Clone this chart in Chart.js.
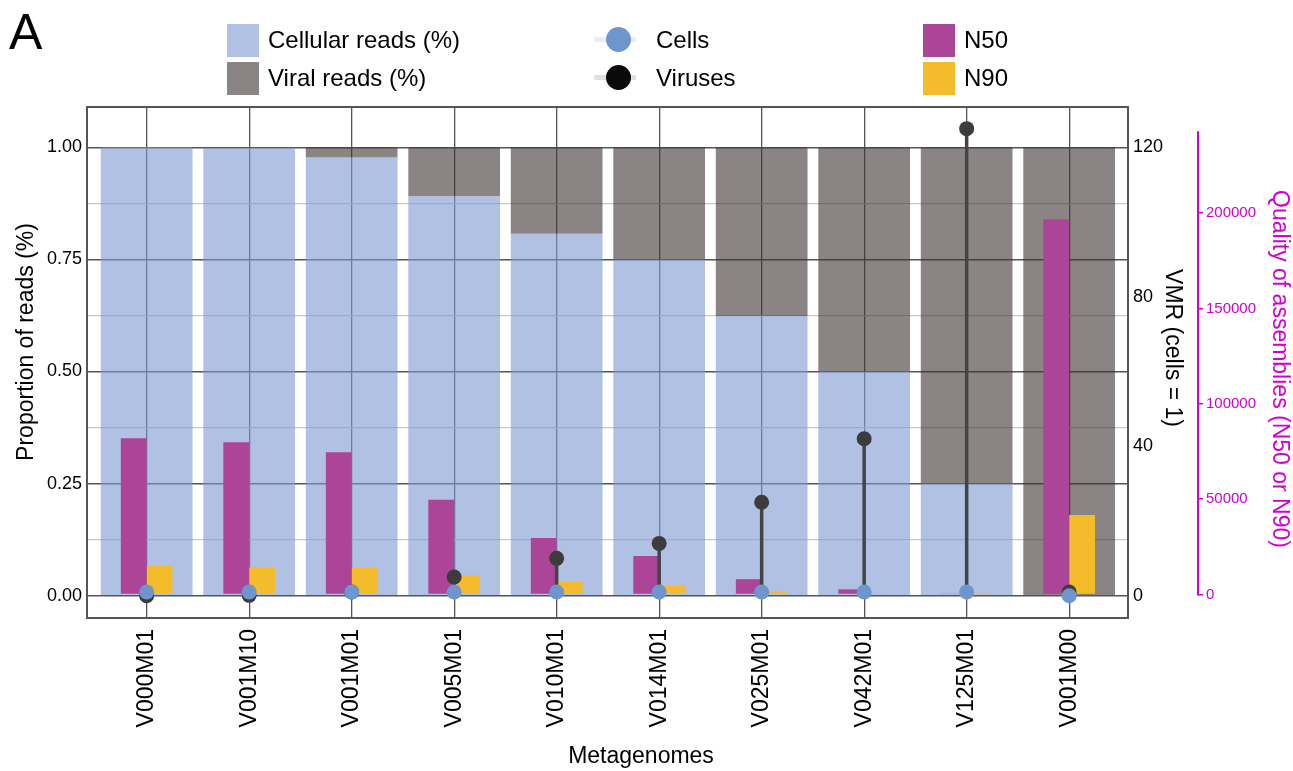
<!DOCTYPE html>
<html>
<head>
<meta charset="utf-8">
<title>Metagenomes</title>
<script src="https://cdn.jsdelivr.net/npm/chart.js@4.4.1/dist/chart.umd.min.js"></script>
<style>
    html, body { margin: 0; padding: 0; background: #fff; }
    body { font-family: "Liberation Sans", Arial, sans-serif; color: #000; }
    #wrap { position: relative; width: 1293px; height: 771px; overflow: hidden; }
    #chart-box { position: absolute; left: 0; top: 0; width: 1293px; height: 771px; }
    #panel { position: absolute; left: 9px; top: 7px; font-size: 50px; line-height: 1; }
    .legend-item { position: absolute; display: flex; align-items: center; height: 34px; font-size: 24px; white-space: nowrap; }
    .swatch { width: 32px; height: 33px; margin-right: 9px; }
    .pt { position: relative; width: 42px; height: 34px; margin-right: 20px; }
    .pt .ln { position: absolute; left: 0; right: 0; top: 14px; height: 5px; }
    .pt .dot { position: absolute; left: 12px; top: 4px; width: 25px; height: 25px; border-radius: 50%; }
</style>
</head>
<body>
<div id="wrap">
    <div id="chart-box"><canvas id="vmrChart"></canvas></div>
    <div id="panel">A</div>
    <div id="legend"></div>
</div>
<script>
// Data
const categories = ['V000M01', 'V001M10', 'V001M01', 'V005M01', 'V010M01',
                    'V014M01', 'V025M01', 'V042M01', 'V125M01', 'V001M00'];
const cellularReads = [1.000, 0.999, 0.977, 0.891, 0.807, 0.750, 0.624, 0.500, 0.250, 0.000];
const viralReads    = [0.000, 0.001, 0.023, 0.109, 0.193, 0.250, 0.376, 0.500, 0.750, 1.000];
const vmrCells   = [1, 1, 1, 1, 1, 1, 1, 1, 1, 0];
const vmrViruses = [0, 0.1, 1, 5, 10, 14, 25, 42, 125, 1];
const n50 = [81900, 79800, 74600, 49700, 29600, 20200, 8000, 2700, 500, 196800];
const n90 = [15100, 14100, 14100, 10200, 6600, 4600, 1700, 300, 100, 41700];

const proportionTicks = [0, 0.125, 0.25, 0.375, 0.5, 0.625, 0.75, 0.875, 1];
const vmrTicks = [0, 40, 80, 120];
const assemblyTicks = [0, 50000, 100000, 150000, 200000];

const xTitle = 'Metagenomes';
const yTitle = 'Proportion of reads (%)';
const vmrTitle = 'VMR (cells = 1)';
const asmTitle = 'Quality of assemblies (N50 or N90)';

const FONT = '"Liberation Sans", Arial, sans-serif';
const MAGENTA = '#d000d0';

Chart.defaults.font.family = FONT;
Chart.defaults.color = '#000';

const xy = arr => arr.map((v, i) => ({ x: i, y: v }));

// Frame, assembly spine and axis titles
const decorations = {
    id: 'decorations',
    afterDraw(chart) {
        const ctx = chart.ctx;
        const a = chart.chartArea;
        ctx.save();
        ctx.strokeStyle = '#555';
        ctx.lineWidth = 2;
        ctx.strokeRect(a.left, a.top, a.right - a.left, a.bottom - a.top);

        const asm = chart.scales.asm;
        ctx.strokeStyle = MAGENTA;
        ctx.lineWidth = 2;
        ctx.beginPath();
        ctx.moveTo(asm.left + 1, asm.getPixelForValue(0));
        ctx.lineTo(asm.left + 1, asm.getPixelForValue(243000));
        ctx.stroke();

        const titles = [
            { text: yTitle, x: 27, y: 342, rot: -Math.PI / 2, color: '#000' },
            { text: vmrTitle, x: 1172, y: 348, rot: Math.PI / 2, color: '#000' },
            { text: asmTitle, x: 1279, y: 369, rot: Math.PI / 2, color: MAGENTA },
            { text: xTitle, x: 641, y: 757, rot: 0, color: '#000' }
        ];
        ctx.font = '23px ' + FONT;
        ctx.textAlign = 'center';
        ctx.textBaseline = 'middle';
        titles.forEach(t => {
            ctx.save();
            ctx.translate(t.x, t.y);
            ctx.rotate(t.rot);
            ctx.fillStyle = t.color;
            ctx.fillText(t.text, 0, 0);
            ctx.restore();
        });
        ctx.restore();
    }
};

const ctx = document.getElementById('vmrChart').getContext('2d');
const chart = new Chart(ctx, {
    type: 'bar',
    data: {
        datasets: [
            {
                type: 'line',
                label: 'Cells',
                data: xy(vmrCells),
                yAxisID: 'vmr',
                showLine: false,
                pointRadius: 7.5,
                pointHoverRadius: 7.5,
                pointBorderWidth: 0,
                pointBackgroundColor: '#6f95cf',
                backgroundColor: '#6f95cf',
                legendLine: '#e8edf6',
                order: 0
            },
            {
                type: 'line',
                label: 'Viruses',
                data: xy(vmrViruses),
                yAxisID: 'vmr',
                showLine: false,
                pointRadius: 7.5,
                pointHoverRadius: 7.5,
                pointBorderWidth: 0,
                pointBackgroundColor: '#3c3c3c',
                backgroundColor: '#0a0a0a',
                legendLine: '#e0e0e0',
                order: 1
            },
            {
                label: 'stems',
                data: xy(vmrViruses),
                yAxisID: 'vmr',
                grouped: false,
                maxBarThickness: 3.5,
                backgroundColor: '#444',
                order: 2
            },
            {
                label: 'N50',
                data: xy(n50),
                yAxisID: 'asm',
                categoryPercentage: 0.504,
                barPercentage: 1,
                backgroundColor: '#ac4497',
                order: 3
            },
            {
                label: 'N90',
                data: xy(n90),
                yAxisID: 'asm',
                categoryPercentage: 0.504,
                barPercentage: 1,
                backgroundColor: '#f4bc2a',
                order: 3
            },
            {
                label: 'Cellular reads (%)',
                data: xy(cellularReads),
                yAxisID: 'y',
                stack: 'reads',
                grouped: false,
                categoryPercentage: 1,
                barPercentage: 0.895,
                backgroundColor: 'rgba(123, 152, 208, 0.6)',
                order: 4
            },
            {
                label: 'Viral reads (%)',
                data: xy(viralReads),
                yAxisID: 'y',
                stack: 'reads',
                grouped: false,
                categoryPercentage: 1,
                barPercentage: 0.895,
                backgroundColor: 'rgba(60, 52, 50, 0.6)',
                order: 4
            }
        ]
    },
    options: {
        responsive: true,
        maintainAspectRatio: false,
        animation: false,
        layout: { padding: { top: 107, left: 0, right: 0, bottom: 0 } },
        plugins: {
            legend: { display: false },
            tooltip: { enabled: false }
        },
        scales: {
            x: {
                type: 'linear',
                offset: false,
                min: -0.582,
                max: 9.574,
                afterBuildTicks: scale => { scale.ticks = categories.map((c, i) => ({ value: i })); },
                afterFit: scale => { scale.height = 153; },
                ticks: {
                    autoSkip: false,
                    minRotation: 90,
                    maxRotation: 90,
                    padding: 11,
                    color: '#000',
                    font: { size: 23 },
                    callback: value => categories[value]
                },
                grid: { offset: false, color: '#555', lineWidth: 1.3, drawTicks: false },
                border: { display: false }
            },
            y: {
                position: 'left',
                min: -0.0497,
                max: 1.0899,
                afterBuildTicks: scale => { scale.ticks = proportionTicks.map(v => ({ value: v })); },
                afterFit: scale => { scale.width = 87; },
                ticks: {
                    padding: 5,
                    color: '#000',
                    font: { size: 18 },
                    callback: value => (value % 0.25 === 0 ? value.toFixed(2) : '')
                },
                grid: {
                    drawTicks: false,
                    color: c => (c.tick && c.tick.value % 0.25 === 0 ? '#555' : '#c8c8c8'),
                    lineWidth: c => (c.tick && c.tick.value % 0.25 === 0 ? 1.4 : 1.3)
                },
                border: { display: false }
            },
            vmr: {
                position: 'right',
                weight: 0,
                min: -5.96,
                max: 130.8,
                afterBuildTicks: scale => { scale.ticks = vmrTicks.map(v => ({ value: v })); },
                afterFit: scale => { scale.width = 69; },
                ticks: { padding: -3, color: '#000', font: { size: 18 } },
                grid: { display: false },
                border: { display: false }
            },
            asm: {
                position: 'right',
                weight: 1,
                min: -12324,
                max: 255664,
                afterBuildTicks: scale => { scale.ticks = assemblyTicks.map(v => ({ value: v })); },
                afterFit: scale => { scale.width = 96; },
                ticks: { padding: 3, color: MAGENTA, font: { size: 15 }, callback: value => String(value) },
                grid: { drawOnChartArea: false, drawTicks: true, tickLength: 6, color: MAGENTA, lineWidth: 1.5 },
                border: { display: false }
            }
        }
    },
    plugins: [decorations]
});

// HTML legend, three columns of two entries
const legendColumns = [
    { left: 227, kind: 'swatch', labels: ['Cellular reads (%)', 'Viral reads (%)'] },
    { left: 594, kind: 'point', labels: ['Cells', 'Viruses'] },
    { left: 923, kind: 'swatch', labels: ['N50', 'N90'] }
];
const legendRows = [23, 61];
const legendEl = document.getElementById('legend');
legendColumns.forEach(col => {
    col.labels.forEach((label, r) => {
        const ds = chart.data.datasets.find(d => d.label === label);
        const item = document.createElement('div');
        item.className = 'legend-item';
        item.style.left = col.left + 'px';
        item.style.top = legendRows[r] + 'px';
        let marker;
        if (col.kind === 'swatch') {
            marker = document.createElement('span');
            marker.className = 'swatch';
            marker.style.background = ds.backgroundColor;
        } else {
            marker = document.createElement('span');
            marker.className = 'pt';
            marker.innerHTML = '<span class="ln"></span><span class="dot"></span>';
            marker.querySelector('.ln').style.background = ds.legendLine;
            marker.querySelector('.dot').style.background = ds.backgroundColor;
        }
        const text = document.createElement('span');
        text.textContent = label;
        item.appendChild(marker);
        item.appendChild(text);
        legendEl.appendChild(item);
    });
});
</script>
</body>
</html>
